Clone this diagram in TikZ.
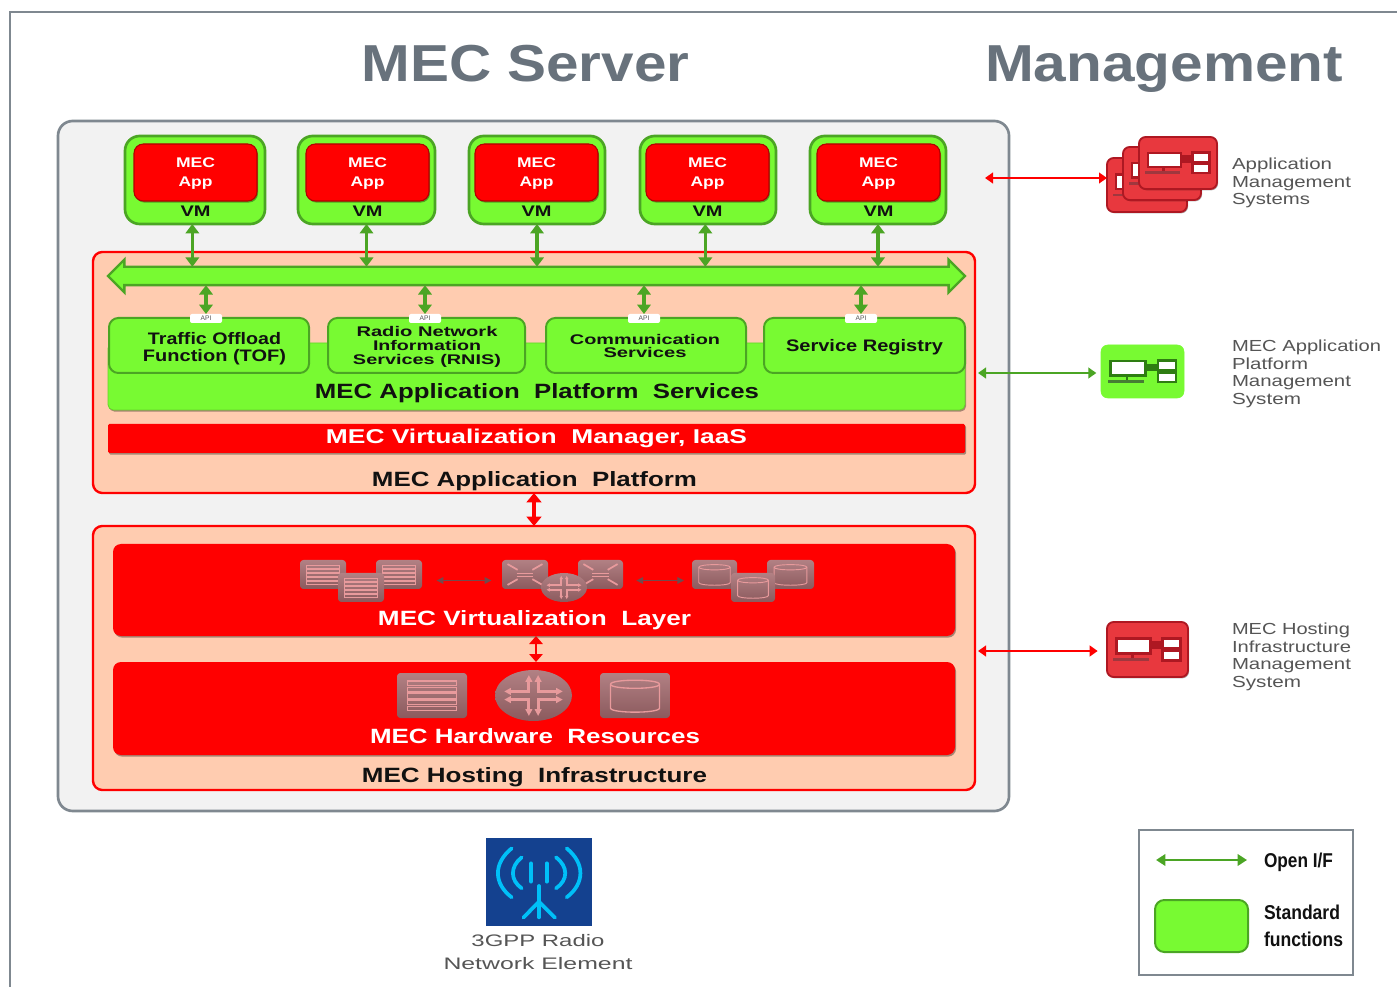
\documentclass[tikz,border=0pt]{standalone}
\usepackage{fontspec}
\setmainfont{Liberation Sans}
\usetikzlibrary{arrows.meta,shapes.arrows,shapes.geometric,shadows}
\definecolor{gr}{HTML}{78FA32}
\definecolor{grl}{HTML}{4BA524}
\definecolor{pe}{HTML}{FFCCB0}
\definecolor{fr}{HTML}{7F8890}
\definecolor{ink}{HTML}{111111}
\definecolor{lab}{HTML}{555555}
\definecolor{tit}{HTML}{68727C}
\definecolor{ic}{HTML}{A46A6E}
\definecolor{icl}{HTML}{E89A9C}
\definecolor{mr}{HTML}{E8383E}
\definecolor{mrd}{HTML}{AE1822}
\definecolor{mgd}{HTML}{2E7D12}
\definecolor{antb}{HTML}{14418F}
\definecolor{antc}{HTML}{00C0F8}
\newlength\pxu \setlength\pxu{0.75pt}
\newcommand\fw[2]{\resizebox{#1\pxu}{\height}{#2}}
\newcommand\fs[2]{\fontsize{#1}{#2}\selectfont}
\newcommand\bx[7]{\node[#6,minimum width={(#4-#2)*0.75pt},minimum height={(#5-#3)*0.75pt}] (#1) at ({(#2+#4)/2},{(#3+#5)/2}) {#7};}
\tikzset{
  base/.style={inner sep=0pt,outer sep=0pt,align=center,text=ink},
  shad/.style={drop shadow={shadow xshift=0.8pt,shadow yshift=-1.2pt,fill=black,opacity=.35}},
  vmbox/.style={base,rectangle,rounded corners=11pt,fill=gr,draw=grl,line width=2pt},
  appbox/.style={base,rectangle,rounded corners=7pt,fill=red,draw=red!70!black,line width=.8pt,text=white,shad},
  apptext/.style={base,text=white,font=\fs{10.5}{14.2}\bfseries},
  svcbox/.style={base,rectangle,rounded corners=7pt,fill=gr,draw=grl,line width=1.5pt},
  pgreen/.style={base,rectangle,rounded corners=4pt,fill=gr,draw=gr!85!black,line width=.6pt,shad},
  peach/.style={base,rectangle,rounded corners=7pt,fill=pe,draw=red,line width=1.8pt},
  redlay/.style={base,rectangle,rounded corners=6pt,fill=red,text=white,shad},
  apilab/.style={base,rectangle,rounded corners=1.5pt,fill=white,text=lab},
  ibox/.style={base,rectangle,rounded corners=2.5pt,top color=ic!85!white,bottom color=ic!85!black},
  iell/.style={base,ellipse,top color=ic!85!white,bottom color=ic!85!black},
  dbg/.style={<->,>={Triangle[length=7pt,width=10pt]},draw=grl,line width=2.6pt},
  dbr/.style={<->,>={Triangle[length=7pt,width=11pt]},draw=red,line width=2.6pt},
  thing/.style={<->,>={Triangle[length=6pt,width=8pt]},line width=1.6pt},
  smalla/.style={<->,>={Triangle[length=5pt,width=5pt]},draw=ic!70!black,line width=.9pt},
  note/.style={inner sep=0pt,outer sep=0pt,align=left,anchor=west,text=lab},
  mon/.style={base,rectangle,rounded corners=5pt},
  redmon/.style={fill=mr,draw=mrd,line width=1.4pt,drop shadow={shadow xshift=0.8pt,shadow yshift=-1pt,fill=black,opacity=.3}},
}
% icon drawings inside a unit box of 100 x 100
\newcommand\inbox[5]{\begin{scope}[shift={(#1,#2)},xscale={(#3-#1)/100},yscale={(#4-#2)/100}]#5\end{scope}}
\newcommand\gsrv[6][.7pt]{\bx{#2}{#3}{#4}{#5}{#6}{ibox}{}\inbox{#3}{#4}{#5}{#6}{%
  \foreach \yy in {18,32,46,60,74}{\draw[icl,line width=#1] (15,\yy) rectangle (85,\yy+10);}}}
\newcommand\gsto[6][.7pt]{\bx{#2}{#3}{#4}{#5}{#6}{ibox}{}\inbox{#3}{#4}{#5}{#6}{%
  \draw[icl,line width=#1] (15,25) .. controls (15,13) and (85,13) .. (85,25) -- (85,78) .. controls (85,90) and (15,90) .. (15,78) -- cycle;
  \draw[icl,line width=#1] (15,25) .. controls (15,37) and (85,37) .. (85,25);}}
\newcommand\gswi[5]{\bx{#1}{#2}{#3}{#4}{#5}{ibox}{}\inbox{#2}{#3}{#4}{#5}{%
  \draw[icl,line width=1.3pt] (12,14)--(34,34) (88,14)--(66,34) (12,86)--(34,66) (88,86)--(66,66);
  \draw[icl,line width=.9pt] (32,46)--(68,46) (32,56)--(68,56);}}
\newcommand\grou[7][1.2pt]{\bx{#2}{#3}{#4}{#5}{#6}{iell}{}\inbox{#3}{#4}{#5}{#6}{%
  \begin{scope}[icl,line width=#1,>={Triangle[length=#7,width=#7]}]
  \draw[<->] (12,42)--(44,42)--(44,10);
  \draw[<->] (88,42)--(56,42)--(56,10);
  \draw[<->] (12,58)--(44,58)--(44,90);
  \draw[<->] (88,58)--(56,58)--(56,90);
  \end{scope}}}
\newcommand\mgmt[7]{\bx{#1}{#2}{#3}{#4}{#5}{mon,#6}{}\inbox{#2}{#3}{#4}{#5}{%
  \fill[#7] (10,28) rectangle (55,60);
  \fill[white] (13,33) rectangle (52,55);
  \fill[#7] (55,35) rectangle (67,50);
  \fill[#7] (67,27) rectangle (92,72);
  \fill[white] (70,32) rectangle (89,46);
  \fill[white] (70,54) rectangle (89,67);
  \fill[#7] (30,60) rectangle (33,66);
  \fill[#7!70!gray] (8,66) rectangle (52,71);}}
\newcommand\tvm[6]{%
  \bx{#1}{#2}{136}{#3}{224}{vmbox}{}
  \bx{#4}{#5}{144}{#6}{201}{appbox}{}
  \node[apptext] (#4t) at ({(#5+#6)/2},174) {\fw{39}{MEC}\\\fw{34}{App}};
  \node[base,font=\fs{11.5}{13}\bfseries] (#1t) at ({(#5+#6)/2},211) {\fw{30}{VM}};}
\begin{document}
\begin{tikzpicture}[x=0.75pt,y=-0.75pt]
\useasboundingbox (0,0) rectangle (1397,987);
\fill[white] (0,0) rectangle (1397,987);
\coordinate (fa) at (10,987); \coordinate (fb) at (10,12); \coordinate (fc) at (1397,12);
\draw[fr,line width=1.8pt] (fa) -- (fb) -- (fc);
\node[base,anchor=base,text=tit,font=\fs{39}{42}\bfseries] (t1) at (525.5,82) {\fw{328}{MEC Server}};
\node[base,anchor=base,text=tit,font=\fs{39}{42}\bfseries] (t2) at (1164,82) {\fw{358}{Management}};
% server
\bx{srv}{58}{121}{1009}{811}{base,rectangle,rounded corners=11pt,fill=black!5,draw=fr,line width=2pt}{}
% VMs
\tvm{vm1}{125}{265}{app1}{134}{257}
\tvm{vm2}{298}{435}{app2}{306}{429}
\tvm{vm3}{469}{605}{app3}{475}{598}
\tvm{vm4}{640}{776}{app4}{646}{769}
\tvm{vm5}{810}{946}{app5}{817}{940}
% platform
\bx{plat}{93}{252}{975}{493}{peach}{}
\node[base,double arrow,double arrow head extend=5.4pt,fill=gr,draw=grl,line width=1.8pt,minimum width=24pt,minimum height={857*0.75pt},inner sep=0pt] (bus) at (536.5,276) {\rule{0pt}{12pt}};
\bx{ps}{108}{343}{965}{410}{pgreen}{}
\node[base,font=\fs{15.5}{17}\bfseries] (pst) at (537,393) {\fw{444}{MEC Application\ \ Platform\ \ Services}};
\bx{s1}{109}{318}{309}{373}{svcbox}{}
\bx{s2}{328}{318}{525}{373}{svcbox}{}
\bx{s3}{546}{318}{746}{373}{svcbox}{}
\bx{s4}{764}{318}{965}{373}{svcbox}{}
\node[base,font=\fs{12.5}{12.8}\bfseries] (s1t) at (214.5,349) {\fw{133}{Traffic Offload}\\\fw{143}{Function (TOF)}};
\node[base,font=\fs{10.5}{10.5}\bfseries] (s2t) at (427,346.5) {\fw{141}{Radio Network}\\\fw{108}{Information}\\\fw{148}{Services (RNIS)}};
\node[base,font=\fs{10.5}{9.9}\bfseries] (s3t) at (645,346) {\fw{150}{Communication}\\\fw{83}{Services}};
\node[base,font=\fs{12.5}{13}\bfseries] (s4t) at (864.5,347) {\fw{157}{Service Registry}};
\bx{a1}{190}{314}{222}{323}{apilab,font=\fs{5}{5}}{API}
\bx{a2}{409}{314}{441}{323}{apilab,font=\fs{5}{5}}{API}
\bx{a3}{628}{314}{660}{323}{apilab,font=\fs{5}{5}}{API}
\bx{a4}{845}{314}{877}{323}{apilab,font=\fs{5}{5}}{API}
\bx{vmgr}{108}{424}{965}{453}{redlay,rounded corners=1pt,font=\fs{15}{17}\bfseries}{\fw{421}{MEC Virtualization\ \ Manager, IaaS}}
\node[base,font=\fs{15.5}{17}\bfseries] (platt) at (534.5,481) {\fw{325}{MEC Application\ \ Platform}};
% vertical green connectors
\draw[dbg] ([xshift=-2pt]vm1.south) -- ([xshift=-2pt]vm1.south |- bus.north);
\draw[dbg] (vm2.south) -- (vm2.south |- bus.north);
\draw[dbg] (vm3.south) -- (vm3.south |- bus.north);
\draw[dbg] ([xshift=-2pt]vm4.south) -- ([xshift=-2pt]vm4.south |- bus.north);
\draw[dbg] (vm5.south) -- (vm5.south |- bus.north);
\draw[dbg] (a1.north |- bus.south) -- (a1.north);
\draw[dbg] (a2.north |- bus.south) -- (a2.north);
\draw[dbg] (a3.north |- bus.south) -- (a3.north);
\draw[dbg] (a4.north |- bus.south) -- (a4.north);
% hosting
\bx{host}{93}{526}{975}{790}{peach}{}
\draw[dbr] (plat.south) -- (plat.south |- host.north);
\bx{vl}{113}{544}{955}{636}{redlay}{}
\bx{hw}{113}{662}{955}{755}{redlay}{}
\node[base,text=white,font=\fs{15.5}{17}\bfseries] (vlt) at (534.5,620) {\fw{313}{MEC Virtualization\ \ Layer}};
\node[base,text=white,font=\fs{15.5}{17}\bfseries] (hwt) at (535,736) {\fw{330}{MEC Hardware\ \ Resources}};
\node[base,font=\fs{15.5}{17}\bfseries] (hostt) at (534.5,777) {\fw{345}{MEC Hosting\ \ Infrastructure}};
\draw[dbr,>={Triangle[length=6pt,width=10pt]},line width=2pt] ([xshift=1.5pt]vl.south) -- ([xshift=1.5pt]hw.north);
% virtual icons
\gsrv{g1}{300}{560}{346}{589}
\gsrv{g2}{376}{560}{422}{589}
\gsrv{g3}{338}{573}{384}{602}
\gswi{w1}{502}{560}{548}{589}
\gswi{w2}{578}{560}{623}{589}
\grou{r1}{541}{573}{587}{602}{2.5pt}
\gsto{d1}{692}{560}{737}{589}
\gsto{d2}{767}{560}{814}{589}
\gsto{d3}{731}{573}{775}{602}
\draw[smalla] ([xshift=11pt,yshift=-4.5pt]g2.east) -- ([xshift=-8pt,yshift=-4.5pt]w1.west);
\draw[smalla] ([xshift=10pt,yshift=-4.5pt]w2.east) -- ([xshift=-6pt,yshift=-4.5pt]d1.west);
% hardware icons
\gsrv[1pt]{g4}{397}{673}{467}{718}
\grou[2.4pt]{r2}{495}{670}{572}{721}{5pt}
\gsto[1pt]{d4}{600}{673}{670}{718}
% management
\mgmt{m3}{1107}{158}{1187}{212}{redmon}{mrd}
\mgmt{m2}{1123}{147}{1201}{200}{redmon}{mrd}
\mgmt{m1}{1139}{137}{1217}{189}{redmon}{mrd}
\mgmt{m4}{1101}{345}{1184}{398}{fill=gr,draw=gr}{mgd}
\mgmt{m5}{1107}{622}{1188}{677}{redmon}{mrd}
\coordinate (e1) at (985,178);
\coordinate (e2) at (978,373);
\coordinate (e3) at (978,651);
\draw[thing,draw=red] (e1) -- (m3.west |- e1);
\draw[thing,draw=grl] (e2) -- ([xshift=-3.5pt]m4.west |- e2);
\draw[thing,draw=red] (e3) -- ([xshift=-7pt]m5.west |- e3);
\node[note,font=\fs{12}{13.1}] (n1) at (1232,183) {\fw{100}{Application}\\\fw{119}{Management}\\\fw{78}{Systems}};
\node[note,font=\fs{12}{13.1}] (n2) at (1232,374) {\fw{149}{MEC Application}\\\fw{76}{Platform}\\\fw{119}{Management}\\\fw{69}{System}};
\node[note,font=\fs{12}{13.1}] (n3) at (1232,657) {\fw{118}{MEC Hosting}\\\fw{119}{Infrastructure}\\\fw{119}{Management}\\\fw{69}{System}};
% antenna
\bx{ant}{486}{838}{592}{926}{base,rectangle,fill=antb}{}
\begin{scope}[shift={(430,820)},x=0.25pt,y=-0.25pt,draw=antc,line width=2.8pt,line cap=round]
\draw (245,85) .. controls (190,130) and (190,190) .. (245,232);
\draw (275,112) .. controls (240,140) and (240,180) .. (275,205);
\draw (303,130) -- (303,185);
\draw (350,130) -- (350,185);
\draw (378,112) .. controls (415,140) and (415,180) .. (378,205);
\draw (410,85) .. controls (465,130) and (465,190) .. (410,232);
\draw (327,198) -- (327,292);
\draw (280,293) -- (327,245) -- (375,293);
\end{scope}
\node[base,text=lab,font=\fs{12.5}{17.5}] (antt) at (538,952) {\fw{133}{3GPP Radio}\\\fw{189}{Network Element}};
% legend
\bx{leg}{1139}{830}{1353}{975}{base,rectangle,fill=white,draw=fr,line width=1.8pt}{}
\coordinate (la) at (1156,860); \coordinate (lb) at (1247,860);
\draw[dbg,>={Triangle[length=7pt,width=8.5pt]},line width=2pt] (la) -- (lb);
\bx{lbox}{1155}{900}{1248}{952}{base,rectangle,rounded corners=7pt,fill=gr,draw=grl,line width=1.5pt}{}
\node[note,text=ink,font=\fs{15}{16}\bfseries] (lt1) at (1264,862) {\fw{69}{Open I/F}};
\node[note,text=ink,font=\fs{15}{20}\bfseries] (lt2) at (1264,926) {\fw{76}{Standard}\\\fw{79}{functions}};
\end{tikzpicture}
\end{document}
